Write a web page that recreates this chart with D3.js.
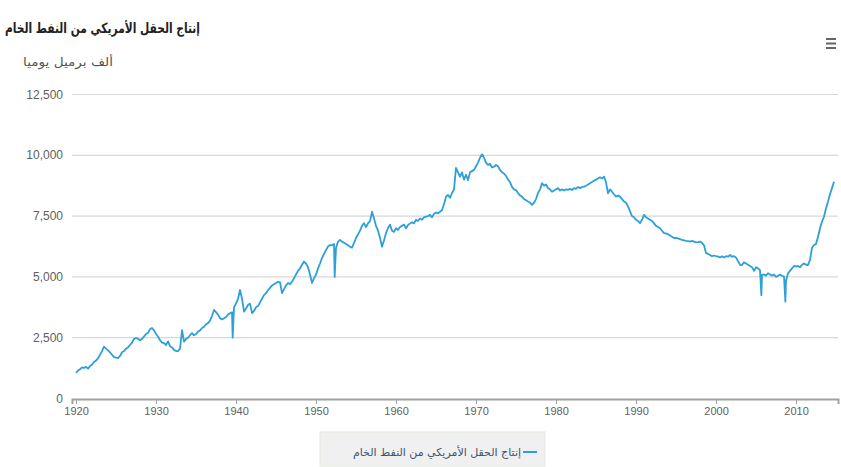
<!DOCTYPE html>
<html><head><meta charset="utf-8">
<script src="https://cdn.jsdelivr.net/npm/d3@7"></script>
<style>body{margin:0;background:#fff} svg{display:block}</style>
</head><body><svg id="c" width="841" height="467"></svg>
<script>
const chartTitle = "إنتاج الحقل الأمريكي من النفط الخام";
const yAxisTitle = "ألف برميل يوميا";
const seriesName = "إنتاج الحقل الأمريكي من النفط الخام";
const yTicks = [0, 2500, 5000, 7500, 10000, 12500];
const xTickYears = [1920, 1930, 1940, 1950, 1960, 1970, 1980, 1990, 2000, 2010];

// quarterly readings (Jan, Apr, Jul, Oct), thousand barrels per day
const years = [
 1920,1921,1922,1923,1924,1925,1926,1927,1928,1929,
 1930,1931,1932,1933,1934,1935,1936,1937,1938,1939,
 1940,1941,1942,1943,1944,1945,1946,1947,1948,1949,
 1950,1951,1952,1953,1954,1955,1956,1957,1958,1959,
 1960,1961,1962,1963,1964,1965,1966,1967,1968,1969,
 1970,1971,1972,1973,1974,1975,1976,1977,1978,1979,
 1980,1981,1982,1983,1984,1985,1986,1987,1988,1989,
 1990,1991,1992,1993,1994,1995,1996,1997,1998,1999,
 2000,2001,2002,2003,2004,2005,2006,2007,2008,2009,
 2010,2011,2012,2013,2014];
const quarterly = [
 [1050,1150,1200,1280],[1260,1300,1230,1330],[1400,1500,1560,1650],[1800,1950,2130,2050],[1980,1900,1800,1700],
 [1680,1665,1750,1900],[1950,2050,2100,2200],[2300,2450,2490,2450],[2400,2450,2550,2650],[2700,2850,2900,2800],
 [2650,2550,2400,2300],[2280,2200,2350,2150],[2100,2000,1950,1950],[2050,2810,2340,2450],[2500,2600,2690,2600],
 [2650,2750,2800,2900],[2950,3050,3100,3200],[3400,3640,3550,3450],[3300,3250,3300,3350],[3450,3500,3550,3750],
 [3900,4100,4460,4100],[3570,3700,3850,3900],[3510,3600,3750,3800],[3950,4100,4250,4330],[4450,4550,4650,4700],
 [4750,4800,4780,4330],[4500,4650,4750,4700],[4800,4950,5100,5250],[5350,5500,5630,5550],[5400,5100,4750,4950],
 [5100,5350,5550,5780],[5950,6100,6250,6310],[6300,6350,6200,6450],[6520,6450,6400,6350],[6300,6240,6200,6400],
 [6600,6750,6900,7100],[7210,7050,7200,7300],[7680,7400,7100,6900],[6600,6240,6500,6800],[7010,7150,6900,6850],
 [7000,6930,7050,7100],[7150,7000,7130,7200],[7250,7200,7350,7300],[7400,7350,7450,7480],[7500,7550,7450,7600],
 [7650,7610,7680,7750],[8000,8300,8370,8250],[8450,8600,9480,9300],[9120,9300,9000,9200],[8980,9300,9350,9400],
 [9550,9700,9900,10040],[9900,9700,9600,9650],[9500,9530,9600,9550],[9400,9300,9250,9150],[9000,8900,8700,8600],
 [8570,8450,8350,8300],[8200,8150,8100,8050],[7960,8050,8200,8450],[8600,8850,8750,8800],[8650,8600,8500,8550],
 [8600,8650,8550,8600],[8550,8600,8580,8620],[8570,8650,8620,8700],[8650,8700,8710,8750],[8800,8850,8900,8950],
 [9000,9050,9100,9050],[9120,8900,8440,8600],[8500,8400,8300,8350],[8300,8200,8100,8050],[7900,7700,7500,7450],
 [7350,7300,7210,7350],[7550,7450,7400,7350],[7300,7200,7100,7050],[7000,6900,6800,6790],[6750,6700,6650,6600],
 [6600,6580,6550,6520],[6500,6480,6470,6450],[6480,6450,6420,6430],[6450,6400,6300,5980],[5950,5900,5850,5880],
 [5850,5830,5800,5850],[5800,5850,5830,5900],[5830,5850,5800,5650],[5500,5490,5600,5550],[5500,5450,5400,5250],
 [5400,5350,5280,5080],[5100,5050,5150,5100],[5050,5100,5000,5050],[5100,5050,5010,4850],[5150,5250,5350,5450],
 [5420,5450,5400,5500],[5550,5500,5490,5700],[6200,6310,6350,6650],[7000,7270,7480,7820],[8100,8400,8650,8910]
];
const quarterMonths = [1, 4, 7, 10];
// sharp single-month dips
const eventMonths = ["1939-08", "1952-05", "2005-09", "2008-09"];
const eventValues = [2500, 5000, 4250, 3980];

const parse = d3.timeParse("%Y-%m");
let points = [];
years.forEach((y, i) => quarterly[i].forEach((v, q) => {
  points.push({date: new Date(y, quarterMonths[q] - 1, 1), value: v});
}));
eventMonths.forEach((m, i) => points.push({date: parse(m), value: eventValues[i]}));
points.sort((a, b) => a.date - b.date);

const svg = d3.select("#c");
const x = d3.scaleTime().domain([new Date(1919, 6, 1), new Date(2015, 3, 1)]).range([72, 838]);
const y = d3.scaleLinear().domain([0, 12500]).range([398.5, 94.5]);

// grid
svg.append("g").selectAll("line").data(yTicks.filter(d => d > 0)).join("line")
  .attr("x1", 72).attr("x2", 838).attr("y1", d => y(d)).attr("y2", d => y(d))
  .attr("stroke", "#d8d8d8").attr("stroke-width", 1.2);

// y labels
svg.append("g").selectAll("text").data(yTicks).join("text")
  .attr("x", 63).attr("y", d => y(d) + 4).attr("text-anchor", "end")
  .attr("font-family", "Liberation Sans, Arial, sans-serif").attr("font-size", 12)
  .attr("fill", "#606060").text(d => d3.format(",")(d));

// x axis
const xAxis = d3.axisBottom(x).tickValues(xTickYears.map(t => new Date(t, 0, 1)))
  .tickFormat(d3.timeFormat("%Y")).tickSize(5).tickPadding(3);
const gx = svg.append("g").attr("transform", "translate(0,399)").call(xAxis);
gx.select(".domain").attr("stroke", "#a0a0a0").attr("stroke-width", 2);
gx.selectAll(".tick line").attr("stroke", "#a0a0a0");
gx.selectAll(".tick text").attr("font-family", "Liberation Sans, Arial, sans-serif")
  .attr("font-size", 11).attr("fill", "#606060");

// line
const line = d3.line().x(d => x(d.date)).y(d => y(d.value));
svg.append("path").datum(points).attr("d", line).attr("fill", "none")
  .attr("stroke", "#2d9fd9").attr("stroke-width", 1.8).attr("stroke-linejoin", "round");

// title
svg.append("text").attr("x", 5).attr("y", 33).attr("text-anchor", "start")
  .attr("direction", "ltr")
  .attr("font-family", "DejaVu Sans Condensed, DejaVu Sans, sans-serif").attr("font-weight", "bold")
  .attr("font-size", 14).attr("fill", "#222")
  .attr("textLength", 195).attr("lengthAdjust", "spacingAndGlyphs").text(chartTitle);
svg.append("text").attr("x", 23).attr("y", 66).attr("text-anchor", "start")
  .attr("font-family", "DejaVu Sans Condensed, DejaVu Sans, sans-serif").attr("font-size", 12)
  .attr("fill", "#555")
  .attr("textLength", 90).attr("lengthAdjust", "spacingAndGlyphs").text(yAxisTitle);

// menu icon
svg.append("g").selectAll("rect").data([0, 1, 2]).join("rect")
  .attr("x", 826).attr("y", d => 38 + d * 4.5).attr("width", 10).attr("height", 2)
  .attr("fill", "#666");

// legend
const lg = svg.append("g");
lg.append("rect").attr("x", 320).attr("y", 432).attr("width", 225).attr("height", 34)
  .attr("fill", "#f0f0f0").attr("stroke", "#e4e8dc");
lg.append("line").attr("x1", 523).attr("x2", 537).attr("y1", 452).attr("y2", 452)
  .attr("stroke", "#2d9fd9").attr("stroke-width", 2);
lg.append("text").attr("x", 521).attr("y", 456).attr("text-anchor", "end")
  .attr("font-family", "DejaVu Sans, sans-serif").attr("font-size", 11)
  .attr("fill", "#3e576f").text(seriesName);
</script></body></html>
